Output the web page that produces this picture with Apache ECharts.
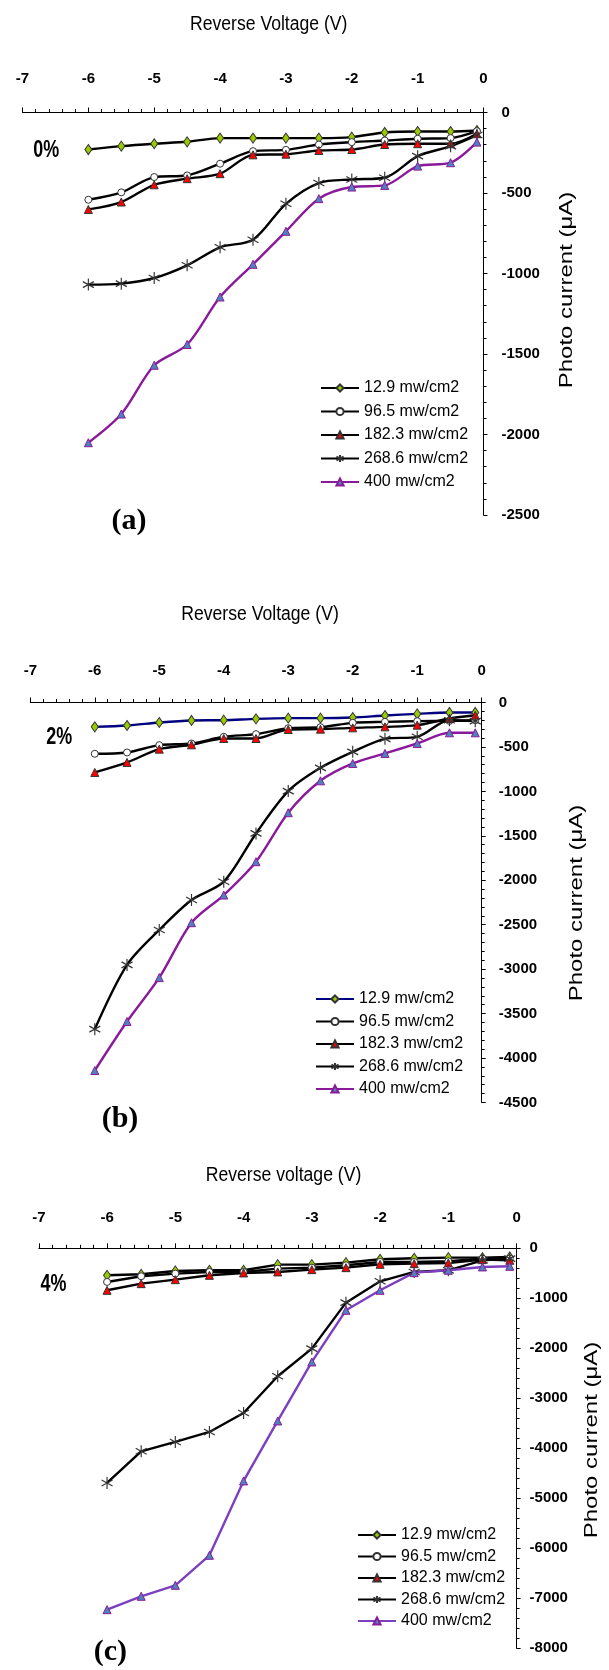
<!DOCTYPE html>
<html>
<head>
<meta charset="utf-8">
<title>Photo current vs reverse voltage</title>
<script src="https://cdn.jsdelivr.net/npm/echarts@6/dist/echarts.min.js"></script>
<style>
  html, body { margin: 0; padding: 0; background: #fff; }
  #chart { width: 609px; height: 1670px; }
</style>
</head>
<body>
<div id="chart"></div>
<script>
// reverse voltage points (V), same for every panel
const volts = [-6, -5.5, -5, -4.5, -4, -3.5, -3, -2.5, -2, -1.5, -1, -0.5, -0.1]
const names = ['12.9 mw/cm2', '96.5 mw/cm2', '182.3 mw/cm2', '268.6 mw/cm2', '400 mw/cm2']

// (a) 0%  photo current (uA)
const a129 = [-230, -209, -194, -182, -159, -159, -159, -159, -153, -124, -118, -118, -112]
const a965 = [-542, -496, -401, -391, -318, -240, -232, -199, -184, -174, -163, -159, -116]
const a1823 = [-602, -556, -449, -411, -380, -263, -259, -236, -230, -199, -194, -194, -132]
const a2686 = [-1069, -1063, -1028, -949, -837, -790, -567, -438, -416, -405, -271, -209, -140]
const a400 = [-2051, -1873, -1570, -1441, -1146, -943, -738, -535, -463, -453, -333, -312, -184]

// (b) 2%
const b129 = [-274, -259, -225, -202, -199, -184, -176, -176, -169, -146, -128, -112, -112]
const b965 = [-577, -562, -480, -461, -386, -356, -289, -278, -229, -218, -210, -207, -199]
const b1823 = [-787, -674, -525, -476, -405, -405, -304, -300, -285, -274, -255, -180, -143]
const b2686 = [-3675, -2952, -2559, -2222, -2016, -1473, -997, -735, -555, -409, -386, -199, -210]
const b400 = [-4140, -3589, -3095, -2477, -2166, -1791, -1240, -881, -686, -573, -461, -341, -341]

// (c) 4%
const c129 = [-540, -520, -453, -440, -440, -327, -327, -287, -220, -200, -187, -187, -173]
const c965 = [-673, -560, -507, -473, -473, -407, -387, -340, -273, -273, -260, -207, -207]
const c1823 = [-840, -707, -627, -540, -493, -473, -427, -387, -320, -307, -293, -227, -240]
const c2686 = [-4693, -4060, -3873, -3673, -3293, -2560, -2007, -1087, -660, -473, -440, -240, -207]
const c400 = [-7227, -6960, -6740, -6140, -4653, -3453, -2273, -1240, -840, -487, -440, -373, -360]

const sans = '"Liberation Sans", Arial, sans-serif'
const starPath = 'path://M5,0L5,10M0.67,2.5L9.33,7.5M0.67,7.5L9.33,2.5'

// marker look of each intensity
const marks = {
  '12.9 mw/cm2': { symbol: 'diamond', size: [7, 10], item: { color: '#99cc00', borderColor: '#333', borderWidth: 1 } },
  '96.5 mw/cm2': { symbol: 'circle', size: 7, item: { color: '#fff', borderColor: '#333', borderWidth: 1 } },
  '182.3 mw/cm2': { symbol: 'triangle', size: [8, 8], item: { color: '#ff0000', borderColor: '#333', borderWidth: 1 } },
  '268.6 mw/cm2': { symbol: starPath, size: [11, 12], item: { color: '#333', borderColor: '#333', borderWidth: 1.2 } },
  '400 mw/cm2': { symbol: 'triangle', size: [8, 8], item: { color: '#4f81bd', borderColor: '#8b1a9b', borderWidth: 1 } }
}

function line (grid, name, values, color, smooth) {
  const m = marks[name]
  return {
    type: 'line',
    name: name,
    xAxisIndex: grid,
    yAxisIndex: grid,
    smooth: smooth,
    data: volts.map((v, i) => [v, values[i]]),
    symbol: m.symbol,
    symbolSize: m.size,
    showAllSymbol: true,
    itemStyle: m.item,
    lineStyle: { color: color, width: 2.4 }
  }
}

// plain numbers, no thousands separator
const plain = v => String(v)

function xAxisFor (grid, margin) {
  return {
    gridIndex: grid,
    type: 'value',
    position: 'top',
    min: -7,
    max: 0,
    interval: 1,
    axisLine: { onZero: false, lineStyle: { color: '#000', width: 1 } },
    axisTick: { length: 5, lineStyle: { color: '#000' } },
    minorTick: { show: true, splitNumber: 5, length: 3.5, lineStyle: { color: '#000' } },
    splitLine: { show: false },
    axisLabel: { margin: margin, color: '#000', fontSize: 15, fontWeight: 'bold', fontFamily: sans, formatter: plain }
  }
}

function yAxisFor (grid, min, interval, margin) {
  return {
    gridIndex: grid,
    type: 'value',
    position: 'right',
    min: min,
    max: 0,
    interval: interval,
    axisLine: { show: true, onZero: false, lineStyle: { color: '#000', width: 1 } },
    axisTick: { show: true, length: 4, lineStyle: { color: '#000' } },
    minorTick: { show: true, splitNumber: 5, length: 3, lineStyle: { color: '#000' } },
    splitLine: { show: false },
    axisLabel: { margin: margin, color: '#000', fontSize: 15, fontWeight: 'bold', fontFamily: sans, formatter: plain }
  }
}

function legendFor (left, top, gap, overrides) {
  return {
    orient: 'vertical',
    left: left,
    top: top,
    padding: 0,
    itemWidth: 38,
    itemHeight: 9,
    itemGap: gap,
    selectedMode: false,
    textStyle: { color: '#000', fontSize: 16, fontFamily: sans },
    data: names.map(n => Object.assign({ name: n }, overrides[n] || {}))
  }
}

function label (text, x, y, font, extra) {
  return Object.assign({
    type: 'text',
    x: x,
    y: y,
    silent: true,
    style: {
      text: text,
      fill: '#000',
      font: font,
      align: 'center',
      textAlign: 'center',
      verticalAlign: 'middle',
      textVerticalAlign: 'middle'
    }
  }, extra || {})
}

const chart = echarts.init(document.getElementById('chart'))

const option = {
  animation: false,
  backgroundColor: '#fff',
  grid: [
    { left: 22.5, top: 112.5, width: 461, height: 402.5 },
    { left: 30.3, top: 702.5, width: 451.4, height: 400 },
    { left: 38.8, top: 1248.3, width: 477.8, height: 400 }
  ],
  xAxis: [xAxisFor(0, 26), xAxisFor(1, 24), xAxisFor(2, 23)],
  yAxis: [yAxisFor(0, -2500, 500, 18), yAxisFor(1, -4500, 500, 17), yAxisFor(2, -8000, 1000, 13)],
  legend: [
    legendFor(320, 380, 7.5, {}),
    legendFor(315, 991, 6.5, { '12.9 mw/cm2': { lineStyle: { color: '#000080' } } }),
    legendFor(357, 1527, 5.5, { '400 mw/cm2': { lineStyle: { color: '#7b3fc0' } } })
  ],
  graphic: [
    label('Reverse Voltage (V)', 268.7, 24, '20px ' + sans, { scaleX: 0.88 }),
    label('Reverse Voltage (V)', 260, 614, '20px ' + sans, { scaleX: 0.88 }),
    label('Reverse voltage (V)', 283.5, 1175, '20px ' + sans, { scaleX: 0.88 }),
    label('Photo current (μA)', 566.5, 290, '24px ' + sans, { rotation: Math.PI / 2, scaleY: 0.8 }),
    label('Photo current (μA)', 576.7, 903, '24px ' + sans, { rotation: Math.PI / 2, scaleY: 0.8 }),
    label('Photo current (μA)', 591.7, 1440, '24px ' + sans, { rotation: Math.PI / 2, scaleY: 0.8 }),
    label('0%', 46.2, 151, 'bold 23px ' + sans, { scaleX: 0.78 }),
    label('2%', 59.2, 738, 'bold 23px ' + sans, { scaleX: 0.78 }),
    label('4%', 53.4, 1285, 'bold 23px ' + sans, { scaleX: 0.78 }),
    label('(a)', 129, 521, 'bold 30px "Liberation Serif", "Times New Roman", serif'),
    label('(b)', 120, 1119, 'bold 30px "Liberation Serif", "Times New Roman", serif'),
    label('(c)', 110.3, 1652, 'bold 30px "Liberation Serif", "Times New Roman", serif')
  ],
  series: [
    line(0, names[0], a129, '#000', 0.3),
    line(0, names[1], a965, '#000', 0.3),
    line(0, names[2], a1823, '#000', 0.3),
    line(0, names[3], a2686, '#000', 0.3),
    line(0, names[4], a400, '#8b1a9b', 0.3),

    line(1, names[0], b129, '#000080', 0.3),
    line(1, names[1], b965, '#000', 0.3),
    line(1, names[2], b1823, '#000', 0.3),
    line(1, names[3], b2686, '#000', 0.3),
    line(1, names[4], b400, '#8b1a9b', 0.3),

    line(2, names[0], c129, '#000', false),
    line(2, names[1], c965, '#000', false),
    line(2, names[2], c1823, '#000', false),
    line(2, names[3], c2686, '#000', false),
    line(2, names[4], c400, '#7b3fc0', false)
  ]
}

chart.setOption(option)
window.addEventListener('resize', () => chart.resize())
</script>
</body>
</html>
